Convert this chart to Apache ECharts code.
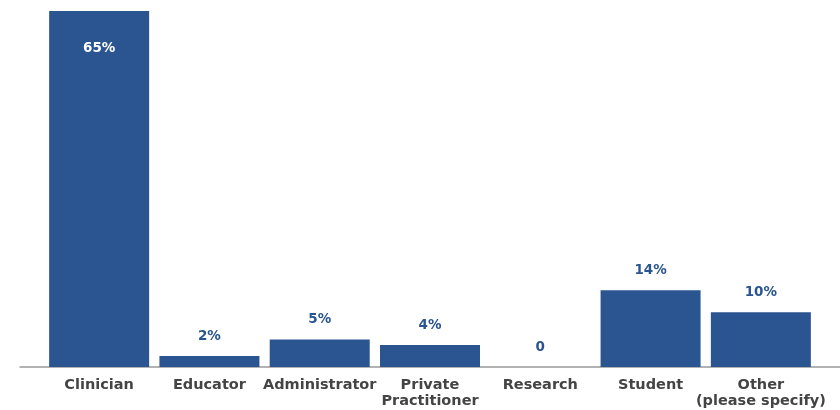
<!DOCTYPE html>
<html><head><meta charset="utf-8">
<script src="https://cdn.jsdelivr.net/npm/echarts@6/dist/echarts.min.js"></script>
<style>html,body{margin:0;padding:0;background:#fff}#c{width:840px;height:410px}</style>
</head><body><div id="c"></div>
<script>
const categories = ['Clinician', 'Educator', 'Administrator', 'Private\nPractitioner', 'Research', 'Student', 'Other\n(please specify)'];
const values = [65, 2, 5, 4, 0, 14, 10];
const valueLabels = ['65%', '2%', '5%', '4%', '0', '14%', '10%'];

const FONT = 'DejaVu Sans';
const BLUE = '#2a5590';
const chart = echarts.init(document.getElementById('c'));
chart.setOption({
  animation: false,
  grid: [
    { left: 44, right: 24, top: 11, bottom: 43 },
    { left: 20, right: 0, top: 11, bottom: 43 }
  ],
  xAxis: [
    {
      type: 'category', data: categories, gridIndex: 0,
      axisLine: { show: false }, axisTick: { show: false },
      axisLabel: { color: '#444', fontFamily: FONT, fontWeight: 700, fontSize: 14.5, lineHeight: 16, margin: 10, interval: 0 }
    },
    {
      type: 'category', data: [''], gridIndex: 1,
      axisLine: { show: true, lineStyle: { color: '#999', width: 1.5 } }, axisTick: { show: false }, axisLabel: { show: false }
    }
  ],
  yAxis: [
    { type: 'value', min: 0, max: 65, gridIndex: 0, show: false },
    { type: 'value', gridIndex: 1, show: false }
  ],
  series: [{
    type: 'bar', xAxisIndex: 0, yAxisIndex: 0, barWidth: 100,
    itemStyle: { color: BLUE },
    data: values.map((v, i) => ({
      value: v,
      label: i === 0 ? { position: 'insideTop', distance: 30, color: '#fff' } : {}
    })),
    label: {
      show: true, position: 'top', distance: 13, color: BLUE,
      fontFamily: FONT, fontWeight: 700, fontSize: 13.5,
      formatter: p => valueLabels[p.dataIndex]
    }
  }]
});
</script></body></html>
